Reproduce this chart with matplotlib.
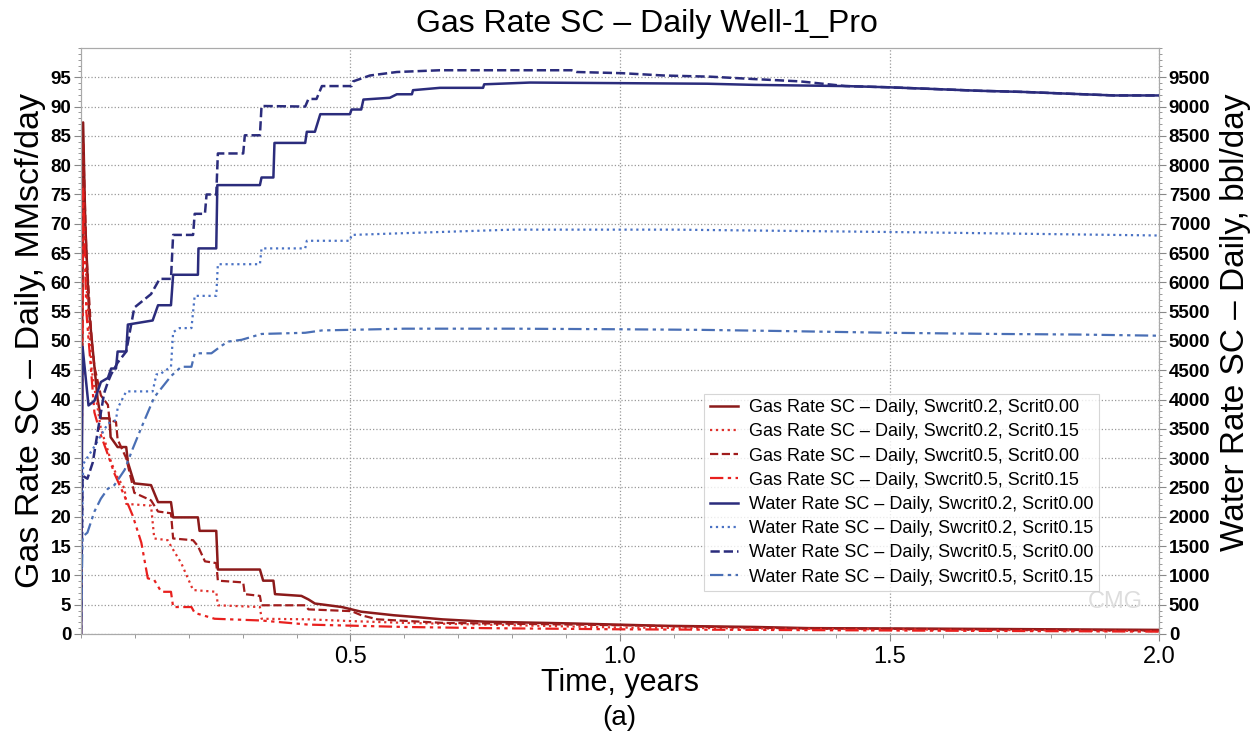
import matplotlib.pyplot as plt
from matplotlib.ticker import MultipleLocator

plt.rcParams['font.family'] = ['Liberation Sans', 'DejaVu Sans']

# Gas rate, MMscf/day (left axis)
gas_a_t = [0, 0.004, 0.008, 0.015, 0.025, 0.031, 0.037, 0.053, 0.055, 0.068, 0.084, 0.087, 0.099, 0.130,
           0.143, 0.167, 0.171, 0.217, 0.220, 0.251, 0.254, 0.332, 0.338, 0.357, 0.360, 0.409, 0.422,
           0.434, 0.484, 0.502, 0.52, 0.58, 0.62, 0.67, 0.75, 0.91, 1.08, 1.25, 1.35, 1.6, 2.0]
gas_a_v = [0, 87.3, 70, 55, 45.6, 40, 36.8, 36.8, 33.6, 31.9, 31.9, 29.3, 25.7, 25.4,
           22.5, 22.5, 19.9, 19.9, 17.6, 17.6, 11.0, 11.0, 9.1, 9.1, 6.8, 6.5, 5.9,
           5.2, 4.6, 4.2, 3.8, 3.2, 2.9, 2.5, 2.1, 1.8, 1.4, 1.2, 1.0, 0.9, 0.7]

gas_b_t = [0, 0.004, 0.01, 0.02, 0.037, 0.05, 0.056, 0.068, 0.081, 0.084, 0.130, 0.136, 0.161, 0.167,
           0.186, 0.208, 0.251, 0.254, 0.332, 0.335, 0.422, 0.502, 0.6, 0.8, 1.0, 1.5, 2.0]
gas_b_v = [0, 80, 60, 45, 35, 31.3, 29.3, 26.7, 24.8, 22.2, 21.9, 16.3, 16.0, 15.0,
           12.1, 7.5, 7.2, 4.9, 4.6, 2.6, 2.5, 2.2, 1.9, 1.5, 1.1, 0.8, 0.5]

gas_c_t = [0, 0.004, 0.01, 0.02, 0.025, 0.037, 0.05, 0.053, 0.065, 0.068, 0.084, 0.099, 0.130, 0.143,
           0.167, 0.171, 0.208, 0.217, 0.230, 0.251, 0.254, 0.301, 0.304, 0.332, 0.335, 0.416, 0.422,
           0.502, 0.52, 0.55, 0.67, 1.0, 1.3, 2.0]
gas_c_v = [0, 84, 65, 50, 45.6, 40.7, 39.1, 36.5, 36.2, 33.2, 30.0, 24.1, 22.8, 20.9,
           20.6, 16.3, 16.0, 15.0, 12.4, 12.1, 9.1, 8.8, 6.8, 6.5, 4.9, 4.9, 4.2,
           3.9, 3.2, 2.5, 1.9, 1.5, 1.0, 0.6]

gas_d_t = [0, 0.004, 0.01, 0.025, 0.037, 0.05, 0.062, 0.081, 0.096, 0.112, 0.124, 0.136, 0.149, 0.167,
           0.171, 0.205, 0.211, 0.248, 0.335, 0.422, 0.6, 0.75, 1.0, 1.5, 2.0]
gas_d_v = [0, 76, 55, 37.8, 33.9, 30.6, 27.4, 23.5, 20.2, 15.6, 9.5, 9.2, 7.2, 7.2,
           4.6, 4.6, 3.6, 2.6, 2.3, 1.6, 1.2, 1.0, 0.8, 0.6, 0.4]

# Water rate, bbl/day (right axis)
wat_a_t = [0, 0.003, 0.014, 0.025, 0.037, 0.05, 0.056, 0.065, 0.068, 0.084, 0.087, 0.133, 0.143, 0.167,
           0.171, 0.217, 0.218, 0.251, 0.253, 0.332, 0.335, 0.357, 0.359, 0.416, 0.419, 0.434, 0.444,
           0.499, 0.502, 0.52, 0.524, 0.573, 0.586, 0.614, 0.616, 0.666, 0.746, 0.748, 0.833, 1.162,
           1.25, 1.334, 1.418, 1.496, 1.582, 1.665, 1.748, 1.831, 1.917, 2.0]
wat_a_v = [0, 4900, 3900, 3980, 4300, 4370, 4530, 4530, 4820, 4820, 5280, 5350, 5610, 5610,
           6130, 6130, 6580, 6580, 7660, 7660, 7790, 7790, 8380, 8380, 8570, 8570, 8870,
           8870, 8950, 8950, 9120, 9150, 9210, 9210, 9280, 9320, 9320, 9380, 9410, 9390,
           9370, 9360, 9350, 9330, 9300, 9270, 9250, 9220, 9190, 9190]

wat_b_t = [0, 0.004, 0.025, 0.037, 0.05, 0.065, 0.068, 0.084, 0.133, 0.140, 0.146, 0.167, 0.171, 0.183,
           0.205, 0.211, 0.251, 0.254, 0.332, 0.335, 0.416, 0.419, 0.499, 0.502, 0.6, 0.7, 0.8,
           1.1, 1.3, 1.5, 1.75, 2.0]
wat_b_v = [0, 2900, 3200, 3390, 3590, 3650, 3850, 4140, 4140, 4430, 4430, 4560, 5150, 5220,
           5220, 5770, 5770, 6310, 6310, 6580, 6580, 6710, 6710, 6810, 6840, 6870, 6900,
           6900, 6880, 6860, 6830, 6800]

wat_c_t = [0, 0.003, 0.012, 0.022, 0.031, 0.037, 0.043, 0.05, 0.056, 0.068, 0.084, 0.099, 0.130, 0.146,
           0.167, 0.171, 0.208, 0.211, 0.230, 0.233, 0.251, 0.254, 0.301, 0.304, 0.332, 0.335, 0.416,
           0.422, 0.437, 0.447, 0.502, 0.505, 0.536, 0.586, 0.666, 0.91, 0.92, 1.003, 1.082, 1.168,
           1.248, 1.334, 1.418, 1.496, 1.582, 1.665, 1.748, 1.831, 1.917, 2.0]
wat_c_v = [0, 2700, 2650, 2930, 3450, 3780, 4110, 4300, 4430, 4630, 4820, 5570, 5800, 6060,
           6060, 6810, 6810, 7170, 7170, 7500, 7500, 8200, 8200, 8510, 8510, 9010, 9000,
           9130, 9130, 9350, 9350, 9430, 9530, 9590, 9620, 9620, 9590, 9570, 9530, 9510,
           9470, 9430, 9350, 9330, 9300, 9270, 9250, 9220, 9190, 9190]

wat_d_t = [0, 0.003, 0.012, 0.025, 0.037, 0.05, 0.062, 0.081, 0.096, 0.112, 0.136, 0.167, 0.186, 0.205,
           0.211, 0.242, 0.261, 0.273, 0.298, 0.335, 0.416, 0.447, 0.6, 0.8, 1.0, 1.15, 1.3,
           1.5, 1.7, 1.85, 2.0]
wat_d_v = [0, 1660, 1730, 2090, 2310, 2480, 2540, 2800, 3160, 3520, 4040, 4400, 4560, 4560,
           4790, 4790, 4920, 4990, 5020, 5120, 5140, 5180, 5210, 5210, 5200, 5190, 5170,
           5140, 5120, 5110, 5090]

dark_red = '#8b1a1a'
red = '#e0302b'
navy = '#2b2c7c'
light_blue = '#4a72c4'
dashdotdot = (0, (6, 2, 1.5, 2, 1.5, 2))

fig = plt.figure(figsize=(12.59, 7.45), dpi=100)
ax = fig.add_axes([0.0643, 0.149, 0.8563, 0.7866])
ax2 = ax.twinx()

g1, = ax.plot(gas_a_t, gas_a_v, color=dark_red, lw=1.8, ls='-',
              label='Gas Rate SC \u2013 Daily, Swcrit0.2, Scrit0.00')
g2, = ax.plot(gas_b_t, gas_b_v, color=red, lw=1.6, ls=':',
              label='Gas Rate SC \u2013 Daily, Swcrit0.2, Scrit0.15')
g3, = ax.plot(gas_c_t, gas_c_v, color='#a01c1c', lw=1.6, ls='--',
              label='Gas Rate SC \u2013 Daily, Swcrit0.5, Scrit0.00')
g4, = ax.plot(gas_d_t, gas_d_v, color='#e8201e', lw=1.6, ls=dashdotdot,
              label='Gas Rate SC \u2013 Daily, Swcrit0.5, Scrit0.15')

w1, = ax2.plot(wat_a_t, wat_a_v, color=navy, lw=1.8, ls='-',
               label='Water Rate SC \u2013 Daily, Swcrit0.2, Scrit0.00')
w2, = ax2.plot(wat_b_t, wat_b_v, color=light_blue, lw=1.6, ls=':',
               label='Water Rate SC \u2013 Daily, Swcrit0.2, Scrit0.15')
w3, = ax2.plot(wat_c_t, wat_c_v, color=navy, lw=1.8, ls='--',
               label='Water Rate SC \u2013 Daily, Swcrit0.5, Scrit0.00')
w4, = ax2.plot(wat_d_t, wat_d_v, color='#4a6fb5', lw=1.6, ls=dashdotdot,
               label='Water Rate SC \u2013 Daily, Swcrit0.5, Scrit0.15')

ax.set_xlim(0, 2.0)
ax.set_ylim(0, 100)
ax2.set_ylim(0, 10000)

ax.set_xticks([0.5, 1.0, 1.5, 2.0])
ax.set_xticklabels(['0.5', '1.0', '1.5', '2.0'])
ax.xaxis.set_minor_locator(MultipleLocator(0.1))
ax.set_yticks(range(0, 100, 5))
ax.yaxis.set_minor_locator(MultipleLocator(1))
ax2.set_yticks(range(0, 10000, 500))
ax2.yaxis.set_minor_locator(MultipleLocator(100))

ax.grid(True, which='major', color='#999999', ls=':', lw=0.9)
ax.tick_params(axis='x', labelsize=17, length=5, color='#888888')
ax.tick_params(axis='x', which='minor', length=3, color='#888888')
ax.tick_params(axis='y', labelsize=13.5, length=5, color='#888888', pad=2)
ax.tick_params(axis='y', which='minor', length=2.5, color='#888888')
ax2.tick_params(axis='y', labelsize=13.5, length=5, color='#888888', pad=2)
ax2.tick_params(axis='y', which='minor', length=2.5, color='#888888')
for lab in ax.get_yticklabels() + ax2.get_yticklabels():
    lab.set_fontweight('bold')
for a in (ax, ax2):
    for s in a.spines.values():
        s.set_color('#aaaaaa')

ax.set_xlabel('Time, years', fontsize=22, labelpad=0)
ax.set_ylabel('Gas Rate SC \u2013 Daily, MMscf/day', fontsize=24.5, labelpad=3)
ax2.set_ylabel('Water Rate SC \u2013 Daily, bbl/day', fontsize=24, va='center')
ax2.yaxis.set_label_coords(1.071, 0.532)
fig.text(0.514, 0.968, 'Gas Rate SC \u2013 Daily Well-1_Pro', ha='center', va='center', fontsize=23)

ax2.text(0.985, 0.035, 'CMG', transform=ax.transAxes, ha='right', va='bottom',
         fontsize=17, color='#dddddd')

handles = [g1, g2, g3, g4, w1, w2, w3, w4]
leg = ax2.legend(handles=handles, loc='upper left', bbox_to_anchor=(0.578, 0.41),
                 fontsize=13, frameon=True, fancybox=False, handlelength=1.6,
                 borderpad=0.3, labelspacing=0.4, handletextpad=0.6, borderaxespad=0)
leg.get_frame().set_edgecolor('#cccccc')
leg.get_frame().set_linewidth(0.8)

fig.text(0.492, 0.027, '(a)', ha='center', fontsize=20)

fig.savefig('out.png', dpi=100)
